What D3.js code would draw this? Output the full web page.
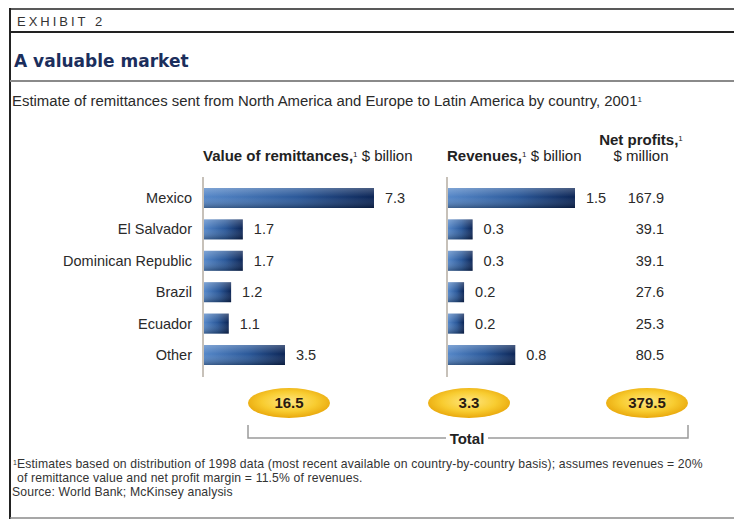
<!DOCTYPE html>
<meta charset="utf-8">
<style>
body { margin: 0; background: #fff; }
svg { font-family: "Liberation Sans Narrow", "Arial Narrow", "Liberation Sans", sans-serif; }
.rowlabel, .val, .note { fill: #2a2a2a; font-size: 14.5px; }
.head { fill: #222; font-size: 15px; font-weight: bold; }
.head .unit { font-weight: normal; }
.tot { fill: #2a1a10; font-size: 15px; font-weight: bold; }
.foot { fill: #333; font-size: 12.2px; letter-spacing: 0.15px; }
.rule { stroke: #222; }
</style>
<body>
<script src="https://cdn.jsdelivr.net/npm/d3@7"></script>
<script>

var countries = ["Mexico", "El Salvador", "Dominican Republic", "Brazil", "Ecuador", "Other"];
var remittances = [7.3, 1.7, 1.7, 1.2, 1.1, 3.5];
var revenues = [1.5, 0.3, 0.3, 0.2, 0.2, 0.8];
var netProfits = [167.9, 39.1, 39.1, 27.6, 25.3, 80.5];
var totals = [16.5, 3.3, 379.5];

var width = 734, height = 521;

var svg = d3.select("body").append("svg")
    .attr("width", width)
    .attr("height", height);

var defs = svg.append("defs");

var barGrad = defs.append("linearGradient").attr("id", "bar");
barGrad.append("stop").attr("offset", "0%").attr("stop-color", "#5587c8");
barGrad.append("stop").attr("offset", "55%").attr("stop-color", "#2a5899");
barGrad.append("stop").attr("offset", "100%").attr("stop-color", "#0b2455");

var shade = defs.append("linearGradient").attr("id", "shade")
    .attr("x1", 0).attr("x2", 0).attr("y1", 0).attr("y2", 1);
shade.append("stop").attr("offset", "0%").attr("stop-color", "#fff").attr("stop-opacity", 0.25);
shade.append("stop").attr("offset", "45%").attr("stop-color", "#fff").attr("stop-opacity", 0);
shade.append("stop").attr("offset", "100%").attr("stop-color", "#000").attr("stop-opacity", 0.3);

var gold = defs.append("radialGradient").attr("id", "gold")
    .attr("cx", "50%").attr("cy", "45%").attr("r", "55%");
gold.append("stop").attr("offset", "0%").attr("stop-color", "#ffe680");
gold.append("stop").attr("offset", "60%").attr("stop-color", "#f8cc30");
gold.append("stop").attr("offset", "100%").attr("stop-color", "#e9a80c");

// frame and rules
svg.append("line").attr("class", "rule")
    .attr("x1", 10).attr("x2", 10).attr("y1", 8).attr("y2", 519)
    .attr("stroke-width", 2);
svg.append("line").attr("class", "rule")
    .attr("x1", 9).attr("x2", width).attr("y1", 9).attr("y2", 9)
    .attr("stroke-width", 1.5);
svg.append("line").attr("class", "rule")
    .attr("x1", 10).attr("x2", width).attr("y1", 32).attr("y2", 32)
    .attr("stroke-width", 2);
svg.append("line")
    .attr("x1", 10).attr("x2", width).attr("y1", 81).attr("y2", 81)
    .attr("stroke", "#8a8a8a").attr("stroke-width", 2);
svg.append("line")
    .attr("x1", 10).attr("x2", width).attr("y1", 518).attr("y2", 518)
    .attr("stroke", "#8a8a8a").attr("stroke-width", 1.5);

svg.append("text")
    .attr("x", 17).attr("y", 26)
    .style("font-family", "'Liberation Sans', sans-serif")
    .style("font-size", "13px")
    .style("letter-spacing", "3px")
    .style("fill", "#333")
    .text("EXHIBIT 2");

svg.append("text")
    .attr("x", 14).attr("y", 67)
    .style("font-family", "'DejaVu Sans', sans-serif")
    .style("font-size", "17px")
    .style("font-weight", "bold")
    .style("fill", "#1b2e5c")
    .text("A valuable market");

var sub = svg.append("text")
    .attr("class", "note")
    .attr("x", 12).attr("y", 106)
    .style("font-size", "14.9px")
    .text("Estimate of remittances sent from North America and Europe to Latin America by country, 2001");
sub.append("tspan").attr("baseline-shift", "super").style("font-size", "8px").text("1");

// scales
var y = d3.scalePoint().domain(countries).range([198, 355]);
var barH = 20;
var xRem = d3.scaleLinear().domain([0, 7.3]).range([203, 374]);
var xRev = d3.scaleLinear().domain([0, 1.5]).range([447, 575]);
var profitX = 664;

function header(x, y0, bold, rest, anchor) {
  var t = svg.append("text").attr("class", "head")
      .attr("x", x).attr("y", y0)
      .attr("text-anchor", anchor || "start");
  t.append("tspan").text(bold);
  t.append("tspan").attr("baseline-shift", "super").style("font-size", "8px").style("font-weight", "normal").text("1");
  if (rest) t.append("tspan").attr("class", "unit").text(" " + rest);
  return t;
}
header(203, 161, "Value of remittances,", "$ billion");
header(447, 161, "Revenues,", "$ billion");
header(641, 145, "Net profits,", null, "middle");
svg.append("text").attr("class", "head")
    .attr("x", 641).attr("y", 161)
    .attr("text-anchor", "middle")
    .style("font-weight", "normal")
    .text("$ million");

// row labels
svg.selectAll(".rowlabel")
    .data(countries)
  .enter().append("text")
    .attr("class", "rowlabel")
    .attr("x", 192)
    .attr("y", function(d) { return y(d); })
    .attr("dy", "0.35em")
    .attr("text-anchor", "end")
    .text(function(d) { return d; });

function barGroup(values, x) {
  var g = svg.append("g");
  g.append("line")
      .attr("x1", x(0)).attr("x2", x(0))
      .attr("y1", 177).attr("y2", 377)
      .attr("stroke", "#b5aca2").attr("stroke-width", 1.5);
  var rows = g.selectAll("g.row")
      .data(values)
    .enter().append("g").attr("class", "row");
  rows.append("rect")
      .attr("x", x(0) + 1)
      .attr("y", function(d, i) { return y(countries[i]) - barH / 2; })
      .attr("width", function(d) { return x(d) - x(0) - 1; })
      .attr("height", barH)
      .attr("fill", "url(#bar)");
  rows.append("rect")
      .attr("x", x(0) + 1)
      .attr("y", function(d, i) { return y(countries[i]) - barH / 2; })
      .attr("width", function(d) { return x(d) - x(0) - 1; })
      .attr("height", barH)
      .attr("fill", "url(#shade)");
  rows.append("text")
      .attr("class", "val")
      .attr("x", function(d) { return x(d) + 11; })
      .attr("y", function(d, i) { return y(countries[i]); })
      .attr("dy", "0.35em")
      .text(function(d) { return d3.format(".1f")(d); });
}
barGroup(remittances, xRem);
barGroup(revenues, xRev);

svg.selectAll(".profit")
    .data(netProfits)
  .enter().append("text")
    .attr("class", "val profit")
    .attr("x", profitX)
    .attr("y", function(d, i) { return y(countries[i]); })
    .attr("dy", "0.35em")
    .attr("text-anchor", "end")
    .text(function(d) { return d3.format(".1f")(d); });

// totals
var totalX = [289, 469, 647];
var tg = svg.selectAll(".total")
    .data(totals)
  .enter().append("g")
    .attr("class", "total")
    .attr("transform", function(d, i) { return "translate(" + totalX[i] + ",403)"; });
tg.append("ellipse")
    .attr("rx", 41).attr("ry", 15)
    .attr("fill", "url(#gold)");
tg.append("text")
    .attr("class", "tot")
    .attr("text-anchor", "middle")
    .attr("dy", "0.36em")
    .text(function(d) { return d3.format(".1f")(d); });

// bracket
var br = d3.path();
br.moveTo(248, 425); br.lineTo(248, 438); br.lineTo(446, 438);
br.moveTo(488, 438); br.lineTo(688, 438); br.lineTo(688, 425);
svg.append("path")
    .attr("d", br.toString())
    .attr("fill", "none")
    .attr("stroke", "#9a9a9a")
    .attr("stroke-width", 1.5);
svg.append("text").attr("class", "head")
    .attr("x", 467).attr("y", 444)
    .attr("text-anchor", "middle")
    .text("Total");

// footnotes
var f1 = svg.append("text").attr("class", "foot").attr("x", 13).attr("y", 468);
f1.append("tspan").attr("baseline-shift", "super").style("font-size", "7px").text("1");
f1.append("tspan").text("Estimates based on distribution of 1998 data (most recent available on country-by-country basis); assumes revenues = 20%");
svg.append("text").attr("class", "foot").attr("x", 17).attr("y", 482)
    .text("of remittance value and net profit margin = 11.5% of revenues.");
svg.append("text").attr("class", "foot").attr("x", 12).attr("y", 496)
    .text("Source: World Bank; McKinsey analysis");

</script>
